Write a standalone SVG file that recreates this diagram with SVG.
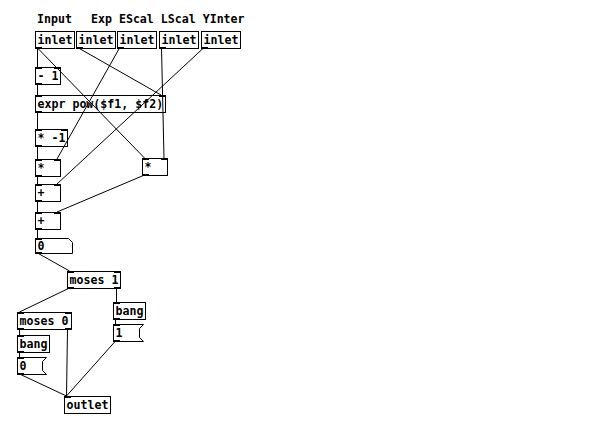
<svg xmlns="http://www.w3.org/2000/svg" width="597" height="428" viewBox="0 0 597 428">
<style>
.b{fill:#fff;stroke:#000;stroke-width:1}
.t{font-family:"DejaVu Sans Mono","Liberation Mono",monospace;font-weight:bold;font-size:11.6px;fill:#000}
.io{fill:#000}
.c line{stroke:#000;stroke-width:1}
</style>
<rect width="597" height="428" fill="#fff"/>
<g id="comments">
<text class="t" x="37" y="23">Input</text>
<text class="t" x="91" y="23">Exp EScal LScal YInter</text>
</g>
<g id="inlet1"><rect class="b" x="35.5" y="31.5" width="39" height="17"/><rect class="io" x="35" y="47" width="7" height="2"/><text class="t" x="37.5" y="43.5">inlet</text></g>
<g id="inlet2"><rect class="b" x="76.5" y="31.5" width="39" height="17"/><rect class="io" x="76" y="47" width="7" height="2"/><text class="t" x="78.5" y="43.5">inlet</text></g>
<g id="inlet3"><rect class="b" x="117.5" y="31.5" width="39" height="17"/><rect class="io" x="117" y="47" width="7" height="2"/><text class="t" x="119.5" y="43.5">inlet</text></g>
<g id="inlet4"><rect class="b" x="159.5" y="31.5" width="39" height="17"/><rect class="io" x="159" y="47" width="7" height="2"/><text class="t" x="161.5" y="43.5">inlet</text></g>
<g id="inlet5"><rect class="b" x="201.5" y="31.5" width="39" height="17"/><rect class="io" x="201" y="47" width="7" height="2"/><text class="t" x="203.5" y="43.5">inlet</text></g>
<g id="sub"><rect class="b" x="35.5" y="67.5" width="25" height="17"/><rect class="io" x="35" y="67" width="7" height="2"/><rect class="io" x="54" y="67" width="7" height="2"/><rect class="io" x="35" y="83" width="7" height="2"/><text class="t" x="37.5" y="79.5">- 1</text></g>
<g id="expr"><rect class="b" x="35.5" y="95.5" width="130" height="17"/><rect class="io" x="35" y="95" width="7" height="2"/><rect class="io" x="159" y="95" width="7" height="2"/><rect class="io" x="35" y="111" width="7" height="2"/><text class="t" x="37.5" y="107.5">expr pow($f1, $f2)</text></g>
<g id="mulneg"><rect class="b" x="35.5" y="129.5" width="32" height="17"/><rect class="io" x="35" y="129" width="7" height="2"/><rect class="io" x="61" y="129" width="7" height="2"/><rect class="io" x="35" y="145" width="7" height="2"/><text class="t" x="37.5" y="141.5">* -1</text></g>
<g id="mulL"><rect class="b" x="35.5" y="159.5" width="25" height="17"/><rect class="io" x="35" y="159" width="7" height="2"/><rect class="io" x="54" y="159" width="7" height="2"/><rect class="io" x="35" y="175" width="7" height="2"/><text class="t" x="37.5" y="171.5">*</text></g>
<g id="mulR"><rect class="b" x="142.5" y="158.5" width="25" height="17"/><rect class="io" x="142" y="158" width="7" height="2"/><rect class="io" x="161" y="158" width="7" height="2"/><rect class="io" x="142" y="174" width="7" height="2"/><text class="t" x="144.5" y="170.5">*</text></g>
<g id="add1"><rect class="b" x="35.5" y="184.5" width="25" height="17"/><rect class="io" x="35" y="184" width="7" height="2"/><rect class="io" x="54" y="184" width="7" height="2"/><rect class="io" x="35" y="200" width="7" height="2"/><text class="t" x="37.5" y="196.5">+</text></g>
<g id="add2"><rect class="b" x="35.5" y="212.5" width="25" height="17"/><rect class="io" x="35" y="212" width="7" height="2"/><rect class="io" x="54" y="212" width="7" height="2"/><rect class="io" x="35" y="228" width="7" height="2"/><text class="t" x="37.5" y="224.5">+</text></g>
<g id="num"><polygon class="b" points="35.5,238.5 68.5,238.5 72.5,242.5 72.5,253.5 35.5,253.5"/><rect class="io" x="35" y="238" width="7" height="2"/><rect class="io" x="35" y="252" width="7" height="2"/><text class="t" x="37.5" y="250">0</text></g>
<g id="moses1"><rect class="b" x="67.5" y="271.5" width="53" height="17"/><rect class="io" x="67" y="271" width="7" height="2"/><rect class="io" x="114" y="271" width="7" height="2"/><rect class="io" x="67" y="287" width="7" height="2"/><rect class="io" x="114" y="287" width="7" height="2"/><text class="t" x="69.5" y="283.5">moses 1</text></g>
<g id="moses0"><rect class="b" x="17.5" y="312.5" width="54" height="17"/><rect class="io" x="17" y="312" width="7" height="2"/><rect class="io" x="65" y="312" width="7" height="2"/><rect class="io" x="17" y="328" width="7" height="2"/><rect class="io" x="65" y="328" width="7" height="2"/><text class="t" x="19.5" y="324.5">moses 0</text></g>
<g id="bangL"><rect class="b" x="17.5" y="335.5" width="32" height="17"/><rect class="io" x="17" y="335" width="7" height="2"/><rect class="io" x="17" y="351" width="7" height="2"/><text class="t" x="19.5" y="347.5">bang</text></g>
<g id="msg0"><polygon class="b" points="17.5,357.5 46.5,357.5 42.5,361.5 42.5,370.5 46.5,374.5 17.5,374.5"/><rect class="io" x="17" y="357" width="7" height="2"/><rect class="io" x="17" y="373" width="7" height="2"/><text class="t" x="19.5" y="369.5">0</text></g>
<g id="bangR"><rect class="b" x="113.5" y="302.5" width="32" height="17"/><rect class="io" x="113" y="302" width="7" height="2"/><rect class="io" x="113" y="318" width="7" height="2"/><text class="t" x="115.5" y="314.5">bang</text></g>
<g id="msg1"><polygon class="b" points="113.5,324.5 143.5,324.5 139.5,328.5 139.5,337.5 143.5,341.5 113.5,341.5"/><rect class="io" x="113" y="324" width="7" height="2"/><rect class="io" x="113" y="340" width="7" height="2"/><text class="t" x="115.5" y="336.5">1</text></g>
<g id="outlet"><rect class="b" x="64.5" y="396.5" width="46" height="17"/><rect class="io" x="64" y="396" width="7" height="2"/><text class="t" x="66.5" y="408.5">outlet</text></g>
<g class="c" id="connectors">
<line x1="37.5" y1="48" x2="37.5" y2="67"/>
<line x1="37.5" y1="48" x2="144.5" y2="158"/>
<line x1="78.5" y1="48" x2="161" y2="95"/>
<line x1="119.5" y1="48" x2="57" y2="159"/>
<line x1="161.5" y1="48" x2="164" y2="158"/>
<line x1="203.5" y1="48" x2="57" y2="184"/>
<line x1="37.5" y1="84" x2="37.5" y2="95"/>
<line x1="37.5" y1="112" x2="37.5" y2="129"/>
<line x1="37.5" y1="146" x2="37.5" y2="159"/>
<line x1="37.5" y1="176" x2="37.5" y2="184"/>
<line x1="37.5" y1="201" x2="37.5" y2="212"/>
<line x1="37.5" y1="229" x2="37.5" y2="238"/>
<line x1="144.5" y1="175" x2="57" y2="212"/>
<line x1="37.5" y1="253" x2="69.5" y2="271"/>
<line x1="69.5" y1="288" x2="19.5" y2="312"/>
<line x1="116.5" y1="288" x2="116.5" y2="302"/>
<line x1="115.5" y1="319" x2="115.5" y2="324"/>
<line x1="115.5" y1="341" x2="66.5" y2="396"/>
<line x1="19.5" y1="329" x2="19.5" y2="335"/>
<line x1="19.5" y1="352" x2="19.5" y2="357"/>
<line x1="19.5" y1="374" x2="66.5" y2="396"/>
<line x1="67.5" y1="329" x2="66.5" y2="396"/>
</g>
</svg>
